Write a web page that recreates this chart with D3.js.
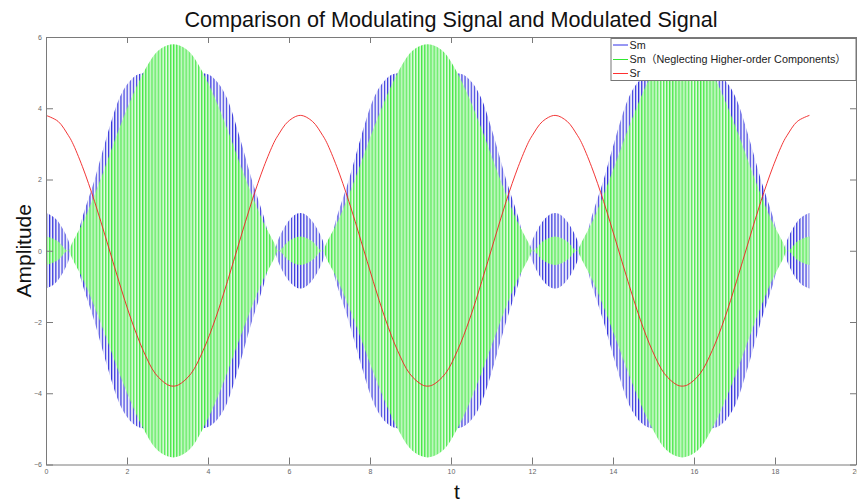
<!DOCTYPE html>
<html>
<head>
<meta charset="utf-8">
<script src="https://cdn.jsdelivr.net/npm/d3@7"></script>
<style>
  body { margin: 0; background: #fff; }
  svg { display: block; font-family: "Liberation Sans", Arial, "Noto Sans CJK SC", sans-serif; }
</style>
</head>
<body>
<div id="container"></div>
<script>
/* CONSTANTS AND GLOBALS */
const width = 857,
  height = 502,
  margin = { top: 37, bottom: 37.5, left: 46, right: 1 };

/* DATA */
// time samples, three periods
const tValues = [
  0, 0.3, 0.55, 0.65, 0.9, 1.2, 1.5, 1.8, 2.1, 2.4, 2.7, 3.0, 3.14, 3.28, 3.58, 3.88, 4.18, 4.48, 4.78, 5.08, 5.38, 5.63, 5.73, 5.98,
  6.28, 6.58, 6.83, 6.93, 7.18, 7.48, 7.78, 8.08, 8.38, 8.68, 8.98, 9.28, 9.42, 9.56, 9.86, 10.16, 10.46, 10.76, 11.06, 11.36, 11.66, 11.91, 12.01, 12.26,
  12.57, 12.87, 13.12, 13.22, 13.47, 13.77, 14.07, 14.37, 14.67, 14.97, 15.27, 15.57, 15.71, 15.85, 16.15, 16.45, 16.75, 17.05, 17.35, 17.65, 17.95, 18.20, 18.30, 18.55,
  18.85
];

// Sm (blue) envelope amplitude
const smEnvelope = [
  1.06, 0.82, 0.30, 0.00, 0.95, 2.00, 3.20, 4.25, 4.80, 4.98, 4.85, 4.75, 4.72, 4.75, 4.85, 4.98, 4.80, 4.25, 3.20, 2.00, 0.95, 0.00, 0.30, 0.82,
  1.06, 0.82, 0.30, 0.00, 0.95, 2.00, 3.20, 4.25, 4.80, 4.98, 4.85, 4.75, 4.72, 4.75, 4.85, 4.98, 4.80, 4.25, 3.20, 2.00, 0.95, 0.00, 0.30, 0.82,
  1.06, 0.82, 0.30, 0.00, 0.95, 2.00, 3.20, 4.25, 4.80, 4.98, 4.85, 4.75, 4.72, 4.75, 4.85, 4.98, 4.80, 4.25, 3.20, 2.00, 0.95, 0.00, 0.30, 0.82,
  1.06
];

// Sm neglecting higher-order components (green) envelope amplitude
const smApproxEnvelope = [
  0.40, 0.26, 0.00, 0.23, 0.77, 1.58, 2.48, 3.41, 4.26, 4.99, 5.54, 5.77, 5.80, 5.77, 5.54, 4.99, 4.26, 3.41, 2.48, 1.58, 0.77, 0.23, 0.00, 0.26,
  0.40, 0.26, 0.00, 0.23, 0.77, 1.58, 2.48, 3.41, 4.26, 4.99, 5.54, 5.77, 5.80, 5.77, 5.54, 4.99, 4.26, 3.41, 2.48, 1.58, 0.77, 0.23, 0.00, 0.26,
  0.40, 0.26, 0.00, 0.23, 0.77, 1.58, 2.48, 3.41, 4.26, 4.99, 5.54, 5.77, 5.80, 5.77, 5.54, 4.99, 4.26, 3.41, 2.48, 1.58, 0.77, 0.23, 0.00, 0.26,
  0.40
];

// Sr (red) modulating signal
const srValues = [
  3.80, 3.63, 3.24, 3.04, 2.36, 1.38, 0.27, -0.86, -1.92, -2.80, -3.45, -3.76, -3.80, -3.76, -3.45, -2.80, -1.92, -0.86, 0.27, 1.38, 2.36, 3.04, 3.24, 3.63,
  3.80, 3.63, 3.24, 3.04, 2.36, 1.38, 0.27, -0.86, -1.92, -2.80, -3.45, -3.76, -3.80, -3.76, -3.45, -2.80, -1.92, -0.86, 0.27, 1.38, 2.36, 3.04, 3.24, 3.63,
  3.80, 3.63, 3.24, 3.04, 2.36, 1.38, 0.27, -0.86, -1.92, -2.80, -3.45, -3.76, -3.80, -3.76, -3.45, -2.80, -1.92, -0.86, 0.27, 1.38, 2.36, 3.04, 3.24, 3.63,
  3.80
];

const xTicks = [0, 2, 4, 6, 8, 10, 12, 14, 16, 18, 20];
const yTicks = [-6, -4, -2, 0, 2, 4, 6];
const legendLabels = ["Sm", "Sm（Neglecting Higher-order Components）", "Sr"];
const legendColors = ["#3030e8", "#30e830", "#ff3030"];

/* SCALES */
const xScale = d3.scaleLinear()
  .domain([0, 20])
  .range([margin.left, width - margin.right]);

const yScale = d3.scaleLinear()
  .domain([-6, 6])
  .range([height - margin.bottom, margin.top]);

const rows = tValues.map((t, i) => ({
  t: t,
  blue: smEnvelope[i],
  green: smApproxEnvelope[i],
  red: srValues[i]
}));

/* SVG */
const svg = d3.select("#container")
  .append("svg")
  .attr("width", width)
  .attr("height", height);

const defs = svg.append("defs");

defs.append("clipPath").attr("id", "plot-clip")
  .append("rect")
  .attr("x", margin.left)
  .attr("y", margin.top)
  .attr("width", width - margin.left - margin.right)
  .attr("height", height - margin.top - margin.bottom);

// carrier strokes as vertical stripes
const bluePat = defs.append("pattern")
  .attr("id", "blue-carrier")
  .attr("patternUnits", "userSpaceOnUse")
  .attr("x", margin.left)
  .attr("width", 3.1)
  .attr("height", 10);
bluePat.append("rect").attr("width", 3.1).attr("height", 10).attr("fill", "#eeeefc");
bluePat.append("rect").attr("width", 1.15).attr("height", 10).attr("fill", "#3434dc");

const greenPat = defs.append("pattern")
  .attr("id", "green-carrier")
  .attr("patternUnits", "userSpaceOnUse")
  .attr("x", margin.left)
  .attr("width", 3.1)
  .attr("height", 10);
greenPat.append("rect").attr("width", 3.1).attr("height", 10).attr("fill", "#a6f4a6");
greenPat.append("rect").attr("width", 1.0).attr("height", 10).attr("fill", "#46e846");
greenPat.append("rect").attr("x", 2.2).attr("width", 0.75).attr("height", 10).attr("fill", "#f4fff4");

const plot = svg.append("g").attr("clip-path", "url(#plot-clip)");

const blueArea = d3.area()
  .x(d => xScale(d.t))
  .y0(d => yScale(-d.blue))
  .y1(d => yScale(d.blue))
  .curve(d3.curveMonotoneX);

const greenArea = d3.area()
  .x(d => xScale(d.t))
  .y0(d => yScale(-d.green))
  .y1(d => yScale(d.green))
  .curve(d3.curveMonotoneX);

const redLine = d3.line()
  .x(d => xScale(d.t))
  .y(d => yScale(d.red))
  .curve(d3.curveCatmullRom);

plot.append("path")
  .datum(rows)
  .attr("d", blueArea)
  .attr("fill", "url(#blue-carrier)");

plot.append("path")
  .datum(rows)
  .attr("d", greenArea)
  .attr("fill", "url(#green-carrier)");

plot.append("path")
  .datum(rows)
  .attr("d", redLine)
  .attr("fill", "none")
  .attr("stroke", "#f02020")
  .attr("stroke-width", 0.9);

/* AXES */
const axisColor = "#7a7a7a";

const xAxis = d3.axisBottom(xScale).tickValues(xTicks).tickSizeInner(-7).tickSizeOuter(0).tickPadding(5);
const xAxisTop = d3.axisTop(xScale).tickValues(xTicks).tickSizeInner(-6).tickSizeOuter(0).tickFormat("");
const yAxis = d3.axisLeft(yScale).tickValues(yTicks).tickSizeInner(-7).tickSizeOuter(0).tickPadding(4);
const yAxisRight = d3.axisRight(yScale).tickValues(yTicks).tickSizeInner(-6).tickSizeOuter(0).tickFormat("");

const gx = svg.append("g")
  .attr("transform", `translate(0, ${height - margin.bottom})`)
  .call(xAxis);
const gxTop = svg.append("g")
  .attr("transform", `translate(0, ${margin.top})`)
  .call(xAxisTop);
const gy = svg.append("g")
  .attr("transform", `translate(${margin.left}, 0)`)
  .call(yAxis);
const gyRight = svg.append("g")
  .attr("transform", `translate(${width - margin.right}, 0)`)
  .call(yAxisRight);

[gx, gxTop, gy, gyRight].forEach(g => {
  g.selectAll("path, line").attr("stroke", axisColor);
  g.selectAll("text")
    .attr("fill", "#666")
    .attr("font-size", 7)
    .attr("font-family", "Liberation Sans, Arial, sans-serif");
});

/* TITLES */
svg.append("text")
  .attr("x", (margin.left + width - margin.right) / 2)
  .attr("y", 27)
  .attr("text-anchor", "middle")
  .attr("font-size", 21.6)
  .attr("fill", "#111")
  .text("Comparison of Modulating Signal and Modulated Signal");

svg.append("text")
  .attr("x", 457)
  .attr("y", 499)
  .attr("text-anchor", "middle")
  .attr("font-size", 21)
  .attr("fill", "#111")
  .text("t");

svg.append("text")
  .attr("transform", `translate(31, ${yScale(0)}) rotate(-90)`)
  .attr("text-anchor", "middle")
  .attr("font-size", 21)
  .attr("fill", "#111")
  .text("Amplitude");

/* LEGEND */
const legend = svg.append("g");
legend.append("rect")
  .attr("x", 611)
  .attr("y", 38.5)
  .attr("width", width - margin.right - 611)
  .attr("height", 42)
  .attr("fill", "#fff")
  .attr("stroke", "#777")
  .attr("stroke-width", 1);

const legendRows = [45, 59.5, 73.5];
legendLabels.forEach((label, i) => {
  legend.append("line")
    .attr("x1", 613)
    .attr("x2", 628)
    .attr("y1", legendRows[i])
    .attr("y2", legendRows[i])
    .attr("stroke", legendColors[i])
    .attr("stroke-width", 1);
  legend.append("text")
    .attr("x", 629.5)
    .attr("y", legendRows[i])
    .attr("dy", "0.35em")
    .attr("font-size", 10.8)
    .attr("fill", "#222")
    .text(label);
});
</script>
</body>
</html>
